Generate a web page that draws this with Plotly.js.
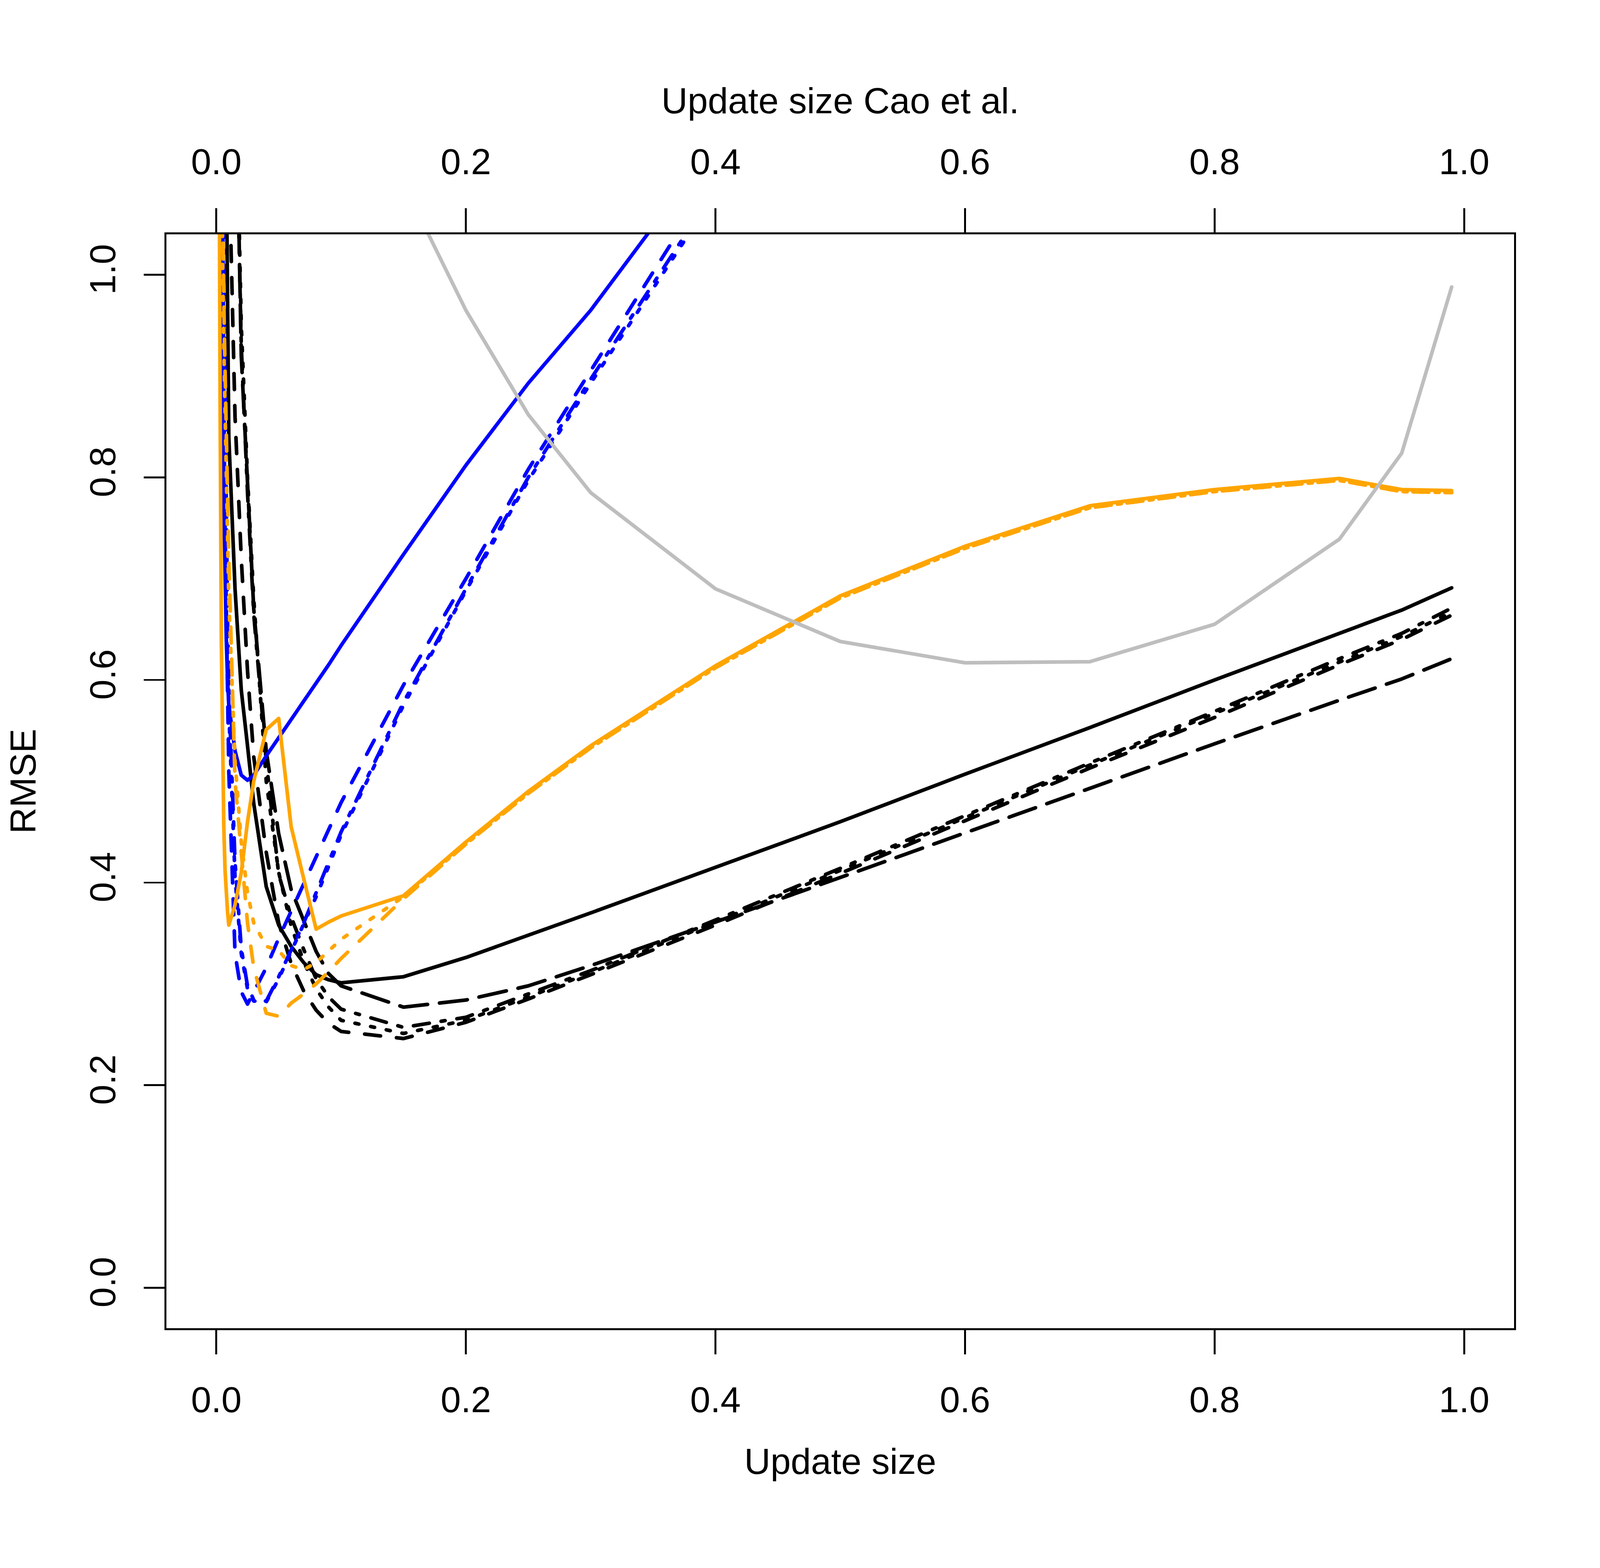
<!DOCTYPE html>
<html>
<head>
<meta charset="utf-8">
<script src="https://cdn.plot.ly/plotly-3.0.1.min.js"></script>
<style>
  html, body { margin: 0; padding: 0; background: #fff; overflow: hidden; }
  /* R draws its lines with round caps and joins */
  .scatterlayer .js-line { stroke-linecap: round; stroke-linejoin: round; }
</style>
</head>
<body>
<div id="chart"></div>
<script>
// update sizes on the lower axis
const updateSize = [0.001, 0.002, 0.003, 0.004, 0.005, 0.006, 0.007, 0.008, 0.009, 0.01,
                    0.015, 0.02, 0.025, 0.03, 0.04, 0.05, 0.06, 0.07, 0.08, 0.09, 0.1,
                    0.15, 0.2, 0.25, 0.3, 0.4, 0.5, 0.6, 0.7, 0.8, 0.9, 0.95, 0.99];

// black family
const blackSolid    = [null, null, null, null, null, null, 1.25, 1.08, 0.92, 0.84,
                       0.69, 0.59, 0.535, 0.478, 0.396, 0.358, 0.337, 0.321, 0.309, 0.304, 0.301,
                       0.307, 0.326, 0.348, 0.370, 0.415, 0.460, 0.507, 0.553, 0.600, 0.646, 0.669, 0.691];
const blackDashed   = [null, null, null, null, null, null, null, null, 1.25, 1.12,
                       0.86, 0.72, 0.609, 0.524, 0.43, 0.36, 0.32, 0.293, 0.274, 0.261, 0.253,
                       0.246, 0.262, 0.285, 0.309, 0.358, 0.409, 0.461, 0.513, 0.563, 0.615, 0.640, 0.664];
const blackLongdash = [null, null, null, null, null, null, null, null, null, 1.8,
                       1.25, 0.92, 0.79, 0.67, 0.53, 0.448, 0.393, 0.362, 0.332, 0.31, 0.298,
                       0.277, 0.284, 0.298, 0.318, 0.361, 0.405, 0.449, 0.493, 0.537, 0.580, 0.601, 0.621];
const blackDotted   = [null, null, null, null, null, null, null, null, null, 1.75,
                       1.24, 0.95, 0.80, 0.68, 0.50, 0.41, 0.357, 0.322, 0.295, 0.277, 0.264,
                       0.251, 0.264, 0.287, 0.311, 0.361, 0.412, 0.464, 0.516, 0.567, 0.618, 0.643, 0.667];
const blackDotdash  = [null, null, null, null, null, null, null, null, null, 1.72,
                       1.22, 0.93, 0.785, 0.665, 0.52, 0.408, 0.366, 0.334, 0.305, 0.287, 0.275,
                       0.257, 0.267, 0.290, 0.313, 0.363, 0.414, 0.466, 0.518, 0.569, 0.621, 0.646, 0.671];

// blue family
const blueSolid     = [null, 1.7, 1.2, 0.98, 0.85, 0.76, 0.69, 0.64, 0.60, 0.575,
                       0.53, 0.506, 0.501, 0.506, 0.525, 0.543, 0.561, 0.578, 0.596, 0.615, 0.634,
                       0.724, 0.812, 0.893, 0.965, 1.13, null, null, null, null, null, null, null];
const blueDashed    = [null, null, null, 1.3, 1.05, 0.88, 0.75, 0.65, 0.57, 0.51,
                       0.33, 0.292, 0.28, 0.292, 0.316, 0.345, 0.372, 0.399, 0.426, 0.452, 0.479,
                       0.595, 0.70, 0.808, 0.905, 1.10, null, null, null, null, null, null, null];
const blueDotted    = [null, null, 1.8, 1.4, 1.15, 0.97, 0.84, 0.73, 0.64, 0.57,
                       0.405, 0.33, 0.295, 0.283, 0.282, 0.305, 0.332, 0.357, 0.386, 0.416, 0.447,
                       0.575, 0.688, 0.797, 0.893, 1.08, null, null, null, null, null, null, null];
const blueDotdash   = [null, null, 1.85, 1.45, 1.18, 1.0, 0.86, 0.75, 0.66, 0.59,
                       0.42, 0.335, 0.298, 0.284, 0.283, 0.307, 0.334, 0.36, 0.39, 0.42, 0.45,
                       0.578, 0.69, 0.80, 0.897, 1.085, null, null, null, null, null, null, null];

// orange family
const orangeSolid   = [1.6, 1.15, 0.88, 0.64, 0.52, 0.455, 0.412, 0.387, 0.371, 0.358,
                       0.378, 0.41, 0.46, 0.50, 0.551, 0.562, 0.455, 0.404, 0.354, 0.361, 0.367,
                       0.387, 0.44, 0.49, 0.535, 0.614, 0.683, 0.732, 0.772, 0.788, 0.799, 0.788, 0.787];
const orangeDotted  = [null, null, 1.5, 1.2, 1.02, 0.93, 0.87, 0.82, 0.76, 0.68,
                       0.52, 0.44, 0.39, 0.36, 0.337, 0.333, 0.318, 0.314, 0.321, 0.332, 0.344,
                       0.386, 0.438, 0.488, 0.533, 0.612, 0.681, 0.730, 0.770, 0.786, 0.797, 0.786, 0.785];
const orangeDashed  = [null, null, 1.6, 1.3, 1.08, 0.97, 0.90, 0.84, 0.78, 0.72,
                       0.50, 0.43, 0.36, 0.316, 0.271, 0.268, 0.281, 0.29, 0.30, 0.312, 0.325,
                       0.384, 0.438, 0.488, 0.533, 0.612, 0.681, 0.730, 0.770, 0.786, 0.797, 0.786, 0.785];

// grey curve, drawn against the upper (Cao et al.) axis
const caoSize = [0.15, 0.2, 0.25, 0.3, 0.4, 0.5, 0.6, 0.7, 0.8, 0.9, 0.95, 0.99];
const caoRmse = [1.09, 0.965, 0.862, 0.785, 0.69, 0.638, 0.617, 0.618, 0.655, 0.739, 0.824, 0.988];

const axisTicks = [0, 0.2, 0.4, 0.6, 0.8, 1.0];

// the figure is laid out for 4724 x 4015 and scaled to whatever viewport we really get
const VW = document.documentElement.clientWidth || window.innerWidth || 4724;
const VH = window.innerHeight || document.documentElement.clientHeight || 4015;
const sx = VW / 4724;
const sy = VH > 200 ? VH / 4015 : sx;
const sm = Math.sqrt(sx * sy);

// R line types at lwd 2 (unit = line width)
const U = 11 * sm;
const LTY = {
    solid: "solid",
    dashed: `${4*U}px,${4*U}px`,
    dotted: `${U}px,${3*U}px`,
    dotdash: `${U}px,${3*U}px,${4*U}px,${3*U}px`,
    longdash: `${7*U}px,${3*U}px`
};
const LW = 10 * sm;

const line = (y, color, lty, xs, xaxis, yaxis) => ({
    x: xs || updateSize,
    y: y,
    xaxis: xaxis || "x",
    yaxis: yaxis || "y",
    type: "scatter",
    mode: "lines",
    connectgaps: false,
    hoverinfo: "skip",
    line: { color: color, width: LW, dash: LTY[lty] }
});

const data = [
    line(blackSolid, "#000000", "solid"),
    line(blackLongdash, "#000000", "longdash"),
    line(blackDashed, "#000000", "dashed"),
    line(blackDotted, "#000000", "dotted"),
    line(blackDotdash, "#000000", "dotdash"),
    line(blueSolid, "#0000FF", "solid"),
    line(blueDashed, "#0000FF", "dashed"),
    line(blueDotted, "#0000FF", "dotted"),
    line(blueDotdash, "#0000FF", "dotdash"),
    line(orangeSolid, "#FFA500", "solid"),
    line(orangeDotted, "#FFA500", "dotted"),
    line(orangeDashed, "#FFA500", "dashed"),
    line(caoRmse, "#BEBEBE", "solid", caoSize, "x2", "y2")
];

const FONT = "Liberation Sans, Arial, Helvetica, sans-serif";
const FS = 100 * sm;

const baseAxis = {
    range: [-0.04, 1.04],
    autorange: false,
    tickvals: axisTicks,
    tickformat: ".1f",
    ticks: "outside",
    tickwidth: 5 * sm,
    tickcolor: "#000",
    showline: true,
    linewidth: 5 * sm,
    linecolor: "#000",
    showgrid: false,
    zeroline: false,
    tickfont: { family: FONT, size: FS, color: "#000" },
    automargin: false
};

const layout = {
    width: VW,
    height: Math.round(4015 * sy),
    margin: { l: 491 * sx, r: 254 * sx, t: 600 * sy, b: 614 * sy, pad: 0 },
    paper_bgcolor: "#FFF",
    plot_bgcolor: "#FFF",
    showlegend: false,
    font: { family: FONT, size: FS, color: "#000" },
    xaxis: Object.assign({}, baseAxis, {
        mirror: true,
        ticklen: 62 * sy,
        ticklabelstandoff: 37 * sy,
        title: { text: "Update size", font: { family: FONT, size: FS }, standoff: 75 * sy }
    }),
    xaxis2: Object.assign({}, baseAxis, {
        overlaying: "x",
        side: "top",
        anchor: "y",
        ticklen: 62 * sy,
        ticklabelstandoff: 50 * sy,
        title: { text: "Update size Cao et al.", font: { family: FONT, size: FS }, standoff: 42 * sy }
    }),
    // left axis: box line and tick marks only
    yaxis: Object.assign({}, baseAxis, {
        mirror: true,
        ticklen: 62 * sx,
        showticklabels: false
    }),
    // same RMSE scale again, carrying the rotated tick labels and the axis title
    yaxis2: Object.assign({}, baseAxis, {
        overlaying: "y",
        side: "left",
        anchor: "x",
        showline: false,
        ticklen: 107 * sx,
        tickcolor: "rgba(0,0,0,0)",
        tickangle: -90,
        title: { text: "RMSE", font: { family: FONT, size: FS }, standoff: 101 * sx }
    })
};

Plotly.newPlot("chart", data, layout, { staticPlot: true, displayModeBar: false });
</script>
</body>
</html>
